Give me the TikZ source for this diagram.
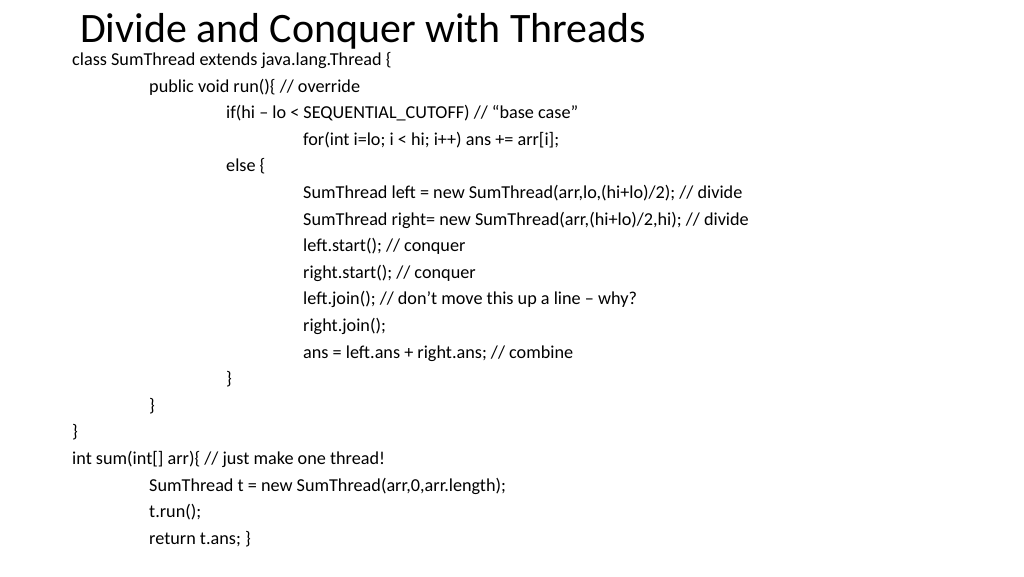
\documentclass[tikz,border=0pt]{standalone}
\usepackage{fontspec}
\setmainfont{Carlito}
\begin{document}
\begin{tikzpicture}[x=1pt,y=-1pt,
    code/.style={anchor=base west,inner sep=0pt,font=\fontsize{18.2}{21}\selectfont},
    heading/.style={anchor=base west,inner sep=0pt,font=\fontsize{41.9}{46}\selectfont}
  ]
  \useasboundingbox (0,0) rectangle (1024,576);
  % title
  \node [heading] (title) at (80,42) {Divide and Conquer with Threads};
  % code lines
  \node [code] (l1) at (72,65.5) {class SumThread extends java.lang.Thread \{};
  \node [code] (l2) at (149,92.1) {public void run()\{ // override};
  \node [code] (l3) at (226,118.7) {if(hi – lo < SEQUENTIAL\_CUTOFF) // “base case”};
  \node [code] (l4) at (303,145.3) {for(int i=lo; i < hi; i++) ans += arr[i];};
  \node [code] (l5) at (226,171.9) {else \{};
  \node [code] (l6) at (303,198.5) {SumThread left = new SumThread(arr,lo,(hi+lo)/2); // divide};
  \node [code] (l7) at (303,225.1) {SumThread right= new SumThread(arr,(hi+lo)/2,hi); // divide};
  \node [code] (l8) at (303,251.7) {left.start(); // conquer};
  \node [code] (l9) at (303,278.3) {right.start(); // conquer};
  \node [code] (l10) at (303,304.9) {left.join(); // don’t move this up a line – why?};
  \node [code] (l11) at (303,331.5) {right.join();};
  \node [code] (l12) at (303,358.1) {ans = left.ans + right.ans; // combine};
  \node [code] (l13) at (226,384.7) {\}};
  \node [code] (l14) at (149,411.3) {\}};
  \node [code] (l15) at (72,437.9) {\}};
  \node [code] (l16) at (72,464.5) {int sum(int[] arr)\{ // just make one thread!};
  \node [code] (l17) at (149,491.1) {SumThread t = new SumThread(arr,0,arr.length);};
  \node [code] (l18) at (149,517.7) {t.run();};
  \node [code] (l19) at (149,544.3) {return t.ans; \}};
\end{tikzpicture}
\end{document}
